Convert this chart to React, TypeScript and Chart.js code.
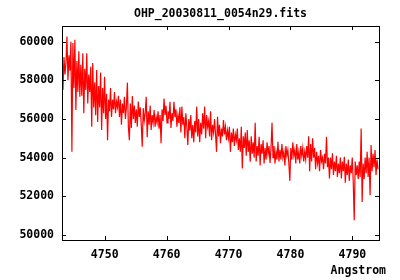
import React, { useEffect, useRef } from "react";
import { Chart, registerables } from "chart.js";

Chart.register(...registerables);

const chartTitle = "OHP_20030811_0054n29.fits";
const xAxisLabel = "Angstrom";

// wavelength grid of the spectrum (start and pixel step, Angstrom)
const lambdaStart = 4743.1;
const lambdaStep = 0.16;

const xTicks = [4750, 4760, 4770, 4780, 4790];
const yTicks = [50000, 52000, 54000, 56000, 58000, 60000];

const flux = [
  58800, 57500, 59200, 58300, 58900, 60260, 58000, 59300, 58500, 60000,
  54300, 59930, 57600, 60100, 56460, 59000, 57400, 59500, 57150, 58800,
  57200, 59400, 56300, 58600, 57500, 59400, 56800, 58300, 57400, 58700,
  55600, 58900, 56600, 57900, 56200, 58530, 55850, 57700, 56600, 58400,
  55430, 57600, 56300, 58190, 56000, 57300, 54900, 57000, 56400, 57600,
  56100, 57000, 56500, 57400, 56300, 56900, 56600, 57200, 56100, 57000,
  55700, 56800, 56300, 57150, 56000, 56600, 57880, 55600, 54900, 56800,
  55530, 57190, 56000, 56700, 55800, 56500, 55600, 56900, 56100, 56600,
  55700, 54560, 56560, 55900, 56300, 57150, 55050, 56400, 55700, 56700,
  55430, 56200, 55800, 56460, 55600, 56100, 55800, 56400, 55500, 56200,
  54740, 56500, 55900, 57060, 56200, 56700, 55800, 56400, 56000, 56890,
  55530, 56300, 55900, 56890, 56100, 56500, 55600, 56200, 55800, 56600,
  55300, 56640, 55700, 56100, 55000, 56300, 55600, 54650, 56000, 55400,
  56200, 55000, 55700, 54800, 55900, 55300, 56650, 55100, 56000, 54800,
  55800, 55200, 56300, 55500, 56650, 55000, 56200, 55600, 55900, 55100,
  56400, 54900, 55700, 55300, 56000, 55200, 54300, 56110, 55100, 55700,
  54750, 55500, 55100, 55950, 55200, 55600, 54900, 55400, 55000, 55600,
  54300, 55300, 54800, 55500, 54600, 55200, 54900, 55500, 54400, 55000,
  54300, 55600, 53440, 55100, 54500, 55300, 54100, 55430, 54300, 54900,
  53790, 55100, 54200, 54800, 54000, 55800, 53800, 54600, 54100, 55080,
  53600, 54700, 54200, 54900, 53700, 54500, 53900, 54800, 54200, 54600,
  53720, 54500, 55800, 54000, 54600, 53700, 54300, 53900, 54820, 53800,
  54400, 53900, 54700, 54000, 54300, 53600, 54600, 54100, 54400, 53700,
  52800, 54500, 53900, 54800, 54100, 54400, 53700, 54700, 53900, 54300,
  53700, 54600, 54100, 54500, 53800, 54300, 53900, 54600, 54000, 55110,
  53300, 54700, 53800, 55000, 54000, 54500, 53400, 54300, 53700, 54100,
  53300, 54390, 53800, 54000, 53400, 54200, 53700, 55080, 53500, 54000,
  52920, 54000, 53400, 54220, 53100, 53800, 53300, 54100, 53000, 53700,
  53200, 54000, 52920, 53800, 53300, 54040, 52700, 53700, 53100, 53900,
  52800, 53600, 53200, 54000, 52750, 50760, 53800, 53100, 53600, 52900,
  53800, 53000, 55510, 51710, 53700, 52900, 54000, 53200, 54300, 53000,
  54000, 52060, 54650, 53300, 54200, 53500, 54400, 53100, 53900, 53400,
];

const FONT = "DejaVu Sans Mono";

const frameTicks = {
  id: "frameTicks",
  afterDraw(chart: any) {
    const { ctx, chartArea } = chart;
    const { left, right, top, bottom } = chartArea;
    const xs = chart.scales.x;
    const ys = chart.scales.y;
    const len = 4;
    ctx.save();
    ctx.strokeStyle = "#000";
    ctx.lineWidth = 1;
    ctx.strokeRect(left + 0.5, top + 0.5, right - left, bottom - top);
    ctx.beginPath();
    for (const v of xTicks) {
      const px = Math.round(xs.getPixelForValue(v)) + 0.5;
      ctx.moveTo(px, bottom);
      ctx.lineTo(px, bottom - len);
      ctx.moveTo(px, top);
      ctx.lineTo(px, top + len);
    }
    for (const v of yTicks) {
      const py = Math.round(ys.getPixelForValue(v)) + 0.5;
      ctx.moveTo(left, py);
      ctx.lineTo(left + len, py);
      ctx.moveTo(right, py);
      ctx.lineTo(right - len, py);
    }
    ctx.stroke();
    ctx.fillStyle = "#000";
    ctx.font = `bold 11.5px "${FONT}"`;
    ctx.textBaseline = "middle";
    ctx.textAlign = "center";
    ctx.fillText(chartTitle, (left + right) / 2, 14.5);
    ctx.textAlign = "right";
    ctx.fillText(xAxisLabel, 386, 271);
    ctx.restore();
  },
};

export default function App() {
  const ref = useRef<HTMLCanvasElement>(null);
  useEffect(() => {
    if (!ref.current) return;
    const points = flux.map((f, i) => ({ x: lambdaStart + i * lambdaStep, y: f }));
    const chart = new Chart(ref.current, {
      type: "line",
      data: {
        datasets: [
          {
            data: points,
            borderColor: "#ff0000",
            borderWidth: 1.2,
            pointRadius: 0,
            tension: 0,
            fill: false,
          },
        ],
      },
      options: {
        animation: false,
        responsive: false,
        devicePixelRatio: 1,
        layout: { padding: { top: 26, right: 21, left: 0, bottom: 0 } },
        plugins: { legend: { display: false }, tooltip: { enabled: false }, title: { display: false } },
        scales: {
          x: {
            type: "linear",
            min: 4743.1,
            max: 4794.3,
            grid: { display: false },
            border: { display: false },
            afterBuildTicks: (s: any) => {
              s.ticks = xTicks.map((v) => ({ value: v }));
            },
            afterFit: (s: any) => {
              s.height = 40;
            },
            ticks: {
              padding: 0,
              maxRotation: 0,
              color: "#000",
              font: { family: FONT, size: 11.5, weight: "bold" },
              callback: (v: any) => String(v),
            },
          },
          y: {
            type: "linear",
            min: 49740,
            max: 60810,
            grid: { display: false },
            border: { display: false },
            afterBuildTicks: (s: any) => {
              s.ticks = yTicks.map((v) => ({ value: v }));
            },
            afterFit: (s: any) => {
              s.width = 62;
            },
            ticks: {
              padding: 0,
              color: "#000",
              font: { family: FONT, size: 11.5, weight: "bold" },
              callback: (v: any) => String(v),
            },
          },
        },
      },
      plugins: [frameTicks],
    });
    return () => chart.destroy();
  }, []);
  return (
    <div style={{ position: "fixed", left: 0, top: 0, width: 400, height: 280, background: "#fff" }}>
      <canvas ref={ref} width={400} height={280} />
    </div>
  );
}
